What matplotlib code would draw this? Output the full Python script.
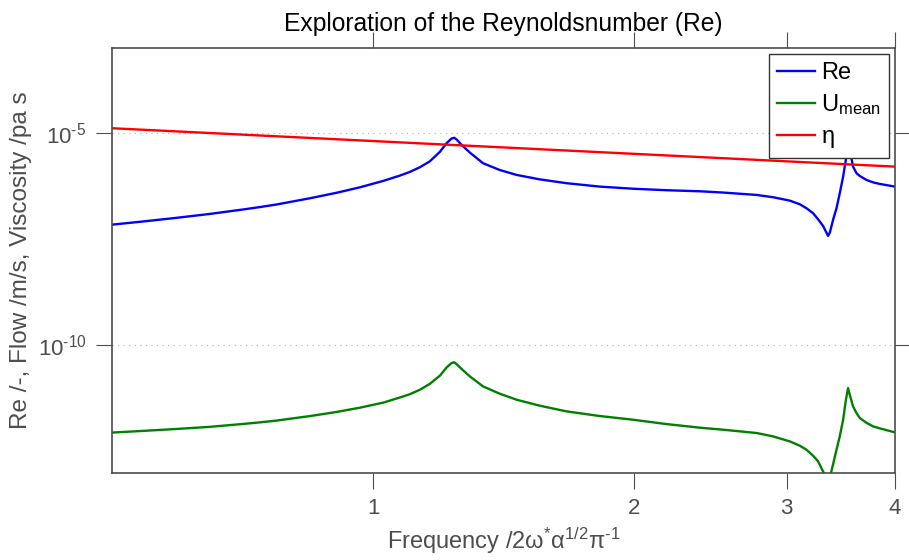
import matplotlib
matplotlib.use("Agg")
import matplotlib.pyplot as plt
import matplotlib.ticker as ticker

plt.rcParams["font.family"] = ["Liberation Sans", "DejaVu Sans"]
plt.rcParams["mathtext.fontset"] = "custom"
plt.rcParams["mathtext.rm"] = "Liberation Sans"
plt.rcParams["mathtext.it"] = "Liberation Sans"
plt.rcParams["mathtext.bf"] = "Liberation Sans:bold"
plt.rcParams["mathtext.default"] = "regular"

# frequency samples (x axis is 2*omega*alpha^1/2/pi)
freq = [0.5, 0.543, 0.593, 0.648, 0.708, 0.740, 0.774, 0.845, 0.907, 0.965,
        1.027, 1.073, 1.102, 1.132, 1.162, 1.194, 1.215, 1.231, 1.240, 1.248, 1.265,
        1.293, 1.339, 1.400, 1.464, 1.557, 1.672, 1.826, 1.995, 2.180, 2.382,
        2.534, 2.769, 2.893, 3.025, 3.106, 3.162, 3.218, 3.261, 3.304, 3.334,
        3.348, 3.364, 3.393, 3.424, 3.454, 3.485, 3.510, 3.531, 3.547, 3.578,
        3.611, 3.643, 3.708, 3.774, 3.841, 4.0]

# decade exponents
re_exp = [-7.165, -7.09, -7.005, -6.913, -6.808, -6.752, -6.69, -6.545, -6.416, -6.287,
          -6.136, -6.012, -5.925, -5.814, -5.677, -5.45, -5.25, -5.14, -5.12, -5.16, -5.29,
          -5.47, -5.72, -5.88, -5.995, -6.10, -6.19, -6.27, -6.32, -6.355, -6.38,
          -6.41, -6.466, -6.52, -6.6, -6.685, -6.78, -6.897, -7.04, -7.195, -7.353,
          -7.43, -7.353, -7.054, -6.78, -6.426, -6.035, -5.642, -5.26, -5.4, -5.8,
          -5.955, -6.02, -6.113, -6.17, -6.207, -6.27]

u_exp = [-12.06, -12.02, -11.975, -11.925, -11.857, -11.82, -11.777, -11.672, -11.575, -11.475,
         -11.355, -11.235, -11.158, -11.052, -10.915, -10.72, -10.53, -10.425, -10.405, -10.45, -10.565,
         -10.739, -10.974, -11.146, -11.287, -11.428, -11.562, -11.671, -11.758, -11.86, -11.945,
         -11.993, -12.07, -12.15, -12.268, -12.369, -12.464, -12.605, -12.739, -12.974, -13.12,
         -13.2, -13.12, -12.81, -12.464, -12.15, -11.758, -11.3, -11.012, -11.169, -11.445,
         -11.6, -11.718, -11.83, -11.915, -11.96, -12.056]

eta_freq = [0.5, 4.0]
eta_exp = [-4.896, -5.80]

re_vals = [10.0 ** e for e in re_exp]
u_mean = [10.0 ** e for e in u_exp]
eta_vals = [10.0 ** e for e in eta_exp]

gray = "#4d4d4d"

fig = plt.figure(figsize=(9.09, 5.6), dpi=100)
ax = fig.add_axes([112.3 / 909, 1 - 472.5 / 560, 782.7 / 909, 424.8 / 560])

ax.plot(freq, re_vals, color=(0, 0, 1), linewidth=1.7, label="Re")
ax.plot(freq, u_mean, color=(0, 0.5, 0), linewidth=1.7, label=r"U$_{mean}$")
ax.plot(eta_freq, eta_vals, color=(1, 0, 0), linewidth=1.7, label=r"$\eta$")

ax.set_xscale("log")
ax.set_yscale("log")
ax.set_xlim(0.5, 4)
ax.set_ylim(1e-13, 1e-3)

ax.xaxis.set_major_locator(ticker.FixedLocator([1, 2, 3, 4]))
ax.xaxis.set_major_formatter(ticker.FixedFormatter(["1", "2", "3", "4"]))
ax.xaxis.set_minor_locator(ticker.NullLocator())
ax.yaxis.set_major_locator(ticker.FixedLocator([1e-10, 1e-5]))
ax.yaxis.set_major_formatter(ticker.FixedFormatter([r"$10^{\text{-}10}$", r"$10^{\text{-}5}$"]))
ax.yaxis.set_minor_locator(ticker.NullLocator())

ax.tick_params(which="major", direction="out", length=11.5, width=0.8, color=gray,
               labelcolor=gray, labelsize=16, top=True, right=True, pad=7)
for sp in ax.spines.values():
    sp.set_color(gray)
    sp.set_linewidth(1.2)

ax.grid(axis="y", which="major", linestyle=(0, (1, 4)), color="#b0b0b0", linewidth=0.8)

ax.set_title("Exploration of the Reynoldsnumber (Re)", fontsize=17.7, pad=12)
ax.set_xlabel(r"Frequency /2$\omega^{*}\alpha^{1/2}\pi^{\text{-}1}$", fontsize=17,
              color=gray, labelpad=5)
ax.set_ylabel("Re /-, Flow /m/s, Viscosity /pa s", fontsize=17.5, color=gray, labelpad=4)

leg = ax.legend(loc="upper right", bbox_to_anchor=(1 - 6 / 783, 1 - 6 / 425),
                borderaxespad=0, fontsize=17, handlelength=1.6, handletextpad=0.25,
                labelspacing=0.36, fancybox=False, framealpha=1, borderpad=0.35)
leg.get_frame().set_edgecolor("#333333")
leg.get_frame().set_linewidth(1.0)

fig.savefig("out.png", dpi=100)
